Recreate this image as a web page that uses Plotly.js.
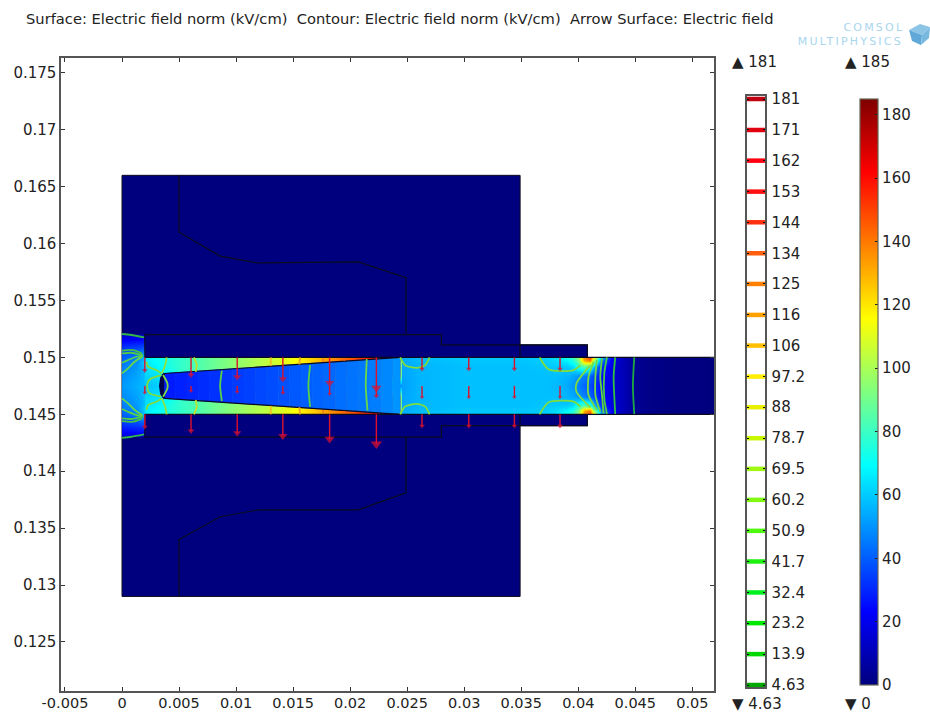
<!DOCTYPE html>
<html><head><meta charset="utf-8">
<script src="https://cdn.plot.ly/plotly-3.0.1.min.js"></script>
<style>html,body{margin:0;padding:0;background:#fff}#chart{width:930px;height:713px}</style>
</head><body><div id="chart"></div>
<script>
// ---------- axis ticks ----------
const xTickVals = [-0.005,0,0.005,0.01,0.015,0.02,0.025,0.03,0.035,0.04,0.045,0.05];
const xTickText = ['-0.005','0','0.005','0.01','0.015','0.02','0.025','0.03','0.035','0.04','0.045','0.05'];
const yTickVals = [0.125,0.13,0.135,0.14,0.145,0.15,0.155,0.16,0.165,0.17,0.175];
const yTickText = ['0.125','0.13','0.135','0.14','0.145','0.15','0.155','0.16','0.165','0.17','0.175'];
// ---------- contour legend ----------
const contourLevels = [4.63,13.9,23.2,32.4,41.7,50.9,60.2,69.5,78.7,88,97.2,106.5,115.7,125,134.2,143.5,152.7,162,171.2,180.5];
const contourLabels = ['4.63','13.9','23.2','32.4','41.7','50.9','60.2','69.5','78.7','88','97.2','106','116','125','134','144','153','162','171','181'];
const contourColors = ['#00a800','#00d800','#00e800','#00f020','#20f010','#50f810','#80f810','#a0f810','#c8f800','#e8f000','#ffee00','#ffc000','#ffa000','#ff8000','#ff6010','#ff3010','#ff1010','#ff0010','#e00010','#c00010'];
const surfaceTicks = [0,20,40,60,80,100,120,140,160,180];
// ---------- geometry (model units) ----------
const outerX = [0,0.0349,0.0349,0,0];
const outerY = [0.129,0.129,0.166,0.166,0.129];
const flangeX = [0.0349,0.0408,0.0408,0.0349,0.0349];
const flangeY = [0.144,0.144,0.1511,0.1511,0.144];
const tailX = [0.0408,0.052,0.052,0.0408,0.0408];
const tailY = [0.145,0.145,0.15,0.15,0.145];
const upperPartX = [0.005,0.005,0.0086,0.0119,0.0207,0.0249,0.0249];
const upperPartY = [0.166,0.161,0.1589,0.1583,0.1584,0.157,0.152];
const lowerPartX = [0.005,0.005,0.0086,0.0119,0.0207,0.0249,0.0249];
const lowerPartY = [0.129,0.134,0.136,0.1366,0.1366,0.1381,0.143];
const upperRimX = [0.002,0.002,0.028,0.028,0.0408,0.0408];
const upperRimY = [0.15,0.152,0.152,0.1511,0.1511,0.15];
const lowerRimX = [0.002,0.002,0.028,0.028,0.0408,0.0408];
const lowerRimY = [0.145,0.143,0.143,0.144,0.144,0.145];
const channelTopX = [0.002,0.052], channelTopY = [0.15,0.15];
const channelBotX = [0.002,0.052], channelBotY = [0.145,0.145];
const coreUpperX = [0.0037,0.0244], coreUpperY = [0.14859,0.15];
const coreLowerX = [0.0037,0.0244], coreLowerY = [0.14641,0.145];
const tipArcX = [0.0037,0.00345,0.00335,0.00345,0.0037];
const tipArcY = [0.14859,0.1482,0.1475,0.1468,0.14641];
// ---------- field tables (kV/cm) ----------
const leftX = [0.00001,0.00002,0.0002,0.0007,0.0013,0.00198,0.00199];
const leftY = [0.14301,0.14302,0.1435,0.144,0.1445,0.145,0.1455,0.146,0.147,0.1475,0.148,0.149,0.1495,0.15,0.1505,0.151,0.1515,0.15198,0.15199];
const lRow0 = [14,14,14,14,14,14,14];
const lRow1 = [24,24,24,24,25,26,26];
const lRow2 = [30,30,31,32,33,35,35];
const lRow3 = [36,36,37,38,40,48,48];
const lRow4 = [40,40,41,43,47,60,60];
const lRow5 = [44,44,45,47,50,62,62];
const lRow6 = [47,47,48,49,52,58,58];
const lRow7 = [50,50,50,52,54,58,58];
const lRow8 = [51,51,52,53,55,57,57];
const chX = [0.00201,0.00202,0.0022,0.003,0.0037,0.005,0.007,0.009,0.011,0.013,0.015,0.017,0.019,0.021,0.023,0.0243,
  0.0245,0.026,0.03,0.035,0.037,0.038,0.039,0.0395,0.04,0.0405,0.041,0.0413,0.0417,0.042,0.0425,0.043,0.044,0.045,0.046,0.048,0.052];
const chY = [0.14501,0.14502,0.1453,0.1458,0.1466,0.1475,0.1484,0.1492,0.1497,0.14998,0.14999];
const rowEdge = [66,66,67,70,73,78,85,92,99,105,114,126,140,153,165,172, 54,58,60,60,61,64,72,80,95,135,150,120,85,60,40,20,10,4,2,0.5,0];
const rowA    = [66,66,67,70,73,78,85,92,99,105,114,126,140,153,165,172, 54,57,59,59,60,63,68,75,90,130,140,105,70,45,32,18,10,4,2,0.5,0];
const rowB    = [64,64,65,68,72,78,85,92,99,105,114,126,140,153,165,172, 53,56,58,58,59,60,60,64,75,85,80,62,42,32,24,16,10,4,2,0.5,0];
const rowC    = [62,62,62,64,66,78,85,92,99,105,114,126,140,153,165,172, 53,56,58,58,58,58,56,54,50,47,42,37,30,25,20,15,10,4,2,0.5,0];
const rowMid  = [58,58,58,60,62,40,40,40,40,40,40,40,40,40,40,40,       52,56,58,58,58,57,54,50,46,42,37,33,28,24,19,15,10,4,2,0.5,0];
// tapered inner conductor gap, value per slice edge
const coreX = [0.0037,0.0047,0.0057,0.0067,0.0077,0.0087,0.0097,0.0107,0.0117,0.0127,0.0137,0.0147,0.0157,0.0167,0.0177,0.0187,0.0197,0.0207,0.0217,0.0227,0.0237,0.0244];
const coreV = [28,29,30,31,32,33,34,35,36,37,38,39,40,41,42,43,44,45,46,48,50];
// ---------- contour lines (model units) ----------
const fan1X=[0,0.00082,0.00193],         fan1Y=[0.15206,0.15197,0.15176];
const fan2X=[0,0.00097,0.00175],         fan2Y=[0.15059,0.15065,0.15035];
const fan3X=[0,0.00082,0.0014,0.00184],  fan3Y=[0.15035,0.15041,0.15029,0.15021];
const fan4X=[0,0.00053,0.00126,0.00184], fan4Y=[0.14953,0.14977,0.15006,0.15012];
const fan5X=[0,0.00053,0.00111,0.00175], fan5Y=[0.1486,0.14904,0.14962,0.15006];
const fan6X=[0.00214,0.00228,0.00301,0.00345], fan6Y=[0.14962,0.14919,0.14889,0.1486];
const wedge1X=[0.00392,0.00378,0.00349], wedge1Y=[0.15,0.14932,0.14859];
const wedge2X=[0.00631,0.00655,0.00646], wedge2Y=[0.15,0.14932,0.14873];
const wedge3X=[0.01304,0.01304],         wedge3Y=[0.15,0.14926];
const wedge4X=[0.01561,0.01555],         wedge4Y=[0.15,0.14938];
const wedge5X=[0.01764,0.01764],         wedge5Y=[0.14991,0.14962];
const wedge6X=[0.01948,0.01948],         wedge6Y=[0.1499,0.1497];
const patchAX=[0.02439,0.02482,0.02585,0.02658,0.02696], patchAY=[0.15,0.14932,0.14908,0.14932,0.15];
const patchBX=[0.03661,0.03742,0.03959,0.04018],         patchBY=[0.15,0.14894,0.14888,0.14932];
const loopX=[0.00345,0.00257,0.00228,0.00222,0.00243,0.00345], loopY=[0.14845,0.14816,0.14787,0.14728,0.14684,0.14655];
const arcX=[0.0036,0.00398,0.00398,0.0036],  arcY=[0.14845,0.14772,0.14728,0.14655];
const core1X=[0.00875,0.0086,0.00875],   core1Y=[0.14883,0.14751,0.14616];
const core2X=[0.01649,0.01634,0.01649],  core2Y=[0.14932,0.14751,0.14566];
const core3X=[0.02146,0.02137,0.02152],  core3Y=[0.14985,0.14751,0.14533];
const tail1X=[0.04105,0.03984,0.03984,0.04105], tail1Y=[0.14932,0.14771,0.14698,0.14561];
const tail2X=[0.04135,0.0409,0.0409,0.04163],   tail2Y=[0.14962,0.1483,0.14669,0.14537];
const tail3X=[0.04163,0.0415,0.0415,0.04193],   tail3Y=[0.14977,0.1483,0.14669,0.14522];
const tail4X=[0.04208,0.04193,0.04208,0.04222], tail4Y=[0.14991,0.1483,0.14669,0.14508];
const tail5X=[0.04251,0.04228,0.04228,0.04251], tail5Y=[0.15,0.14859,0.1464,0.14503];
const tail6X=[0.04324,0.0431,0.04316,0.04324],  tail6Y=[0.15,0.1483,0.14654,0.14503];
const tail7X=[0.04491,0.04479,0.04491],         tail7Y=[0.15,0.14751,0.14503];
// ---------- arrows ----------
const arrowX   = [0.002,0.00605,0.0101,0.0141,0.0182,0.0223,0.0263,0.0304,0.0344,0.0384];
const arrowTopEnd = [0.14885,0.14845,0.14828,0.1481,0.14775,0.14731,0.14898,0.14898,0.14898,0.14898];
const arrowMidEnd = [0.1469,0.14705,0.14696,0.14687,0.14678,0.1466,0.1465,0.1465,0.1465,0.1465];
const arrowBotEnd = [0.14388,0.14353,0.14336,0.14309,0.14283,0.14239,0.14397,0.14397,0.14397,0.14397];
const arrowTopY = 0.15, arrowMidY = 0.1475, arrowBotY = 0.145;
const topHead = [5,6,7,7,8,9,5,5,5,5];
const midHead = [4,4,4,4,4,5,4,4,4,4];
const botHead = [5,6,7,8,9,10,5,5,5,5];

// ---------- helpers ----------
const W = 930, H = 713;
const jet = [[0,[0,0,127]],[0.125,[0,0,255]],[0.375,[0,255,255]],[0.625,[255,255,0]],[0.875,[255,0,0]],[1,[127,0,0]]];
const css = c => 'rgb(' + c.map(Math.round).join(',') + ')';
const jetScale = jet.map(s => [s[0], css(s[1])]);
function jetColor(v){ const t=v/185; for(let i=1;i<jet.length;i++){ if(t<=jet[i][0]){ const a=jet[i-1],b=jet[i],f=(t-a[0])/(b[0]-a[0]); return css(a[1].map((c,k)=>c+(b[1][k]-c)*f)); } } return css(jet[5][1]); }
const pathOf = (xs,ys) => xs.map((x,i)=>(i?'L':'M')+x+','+ys[i]).join(' ')+' Z';
const mirror = ys => ys.map(y => +(0.295 - y).toFixed(5));
const lineTrace = (x,y,color,width) => ({type:'scatter',mode:'lines',x,y,line:{color,width:width||1.8,shape:'spline',smoothing:0.7},hoverinfo:'skip',showlegend:false,xaxis:'x',yaxis:'y'});
const edgeTrace = (x,y,color,width) => ({type:'scatter',mode:'lines',x,y,line:{color:color||'#0a0a20',width:width||1.2},hoverinfo:'skip',showlegend:false,xaxis:'x',yaxis:'y'});

const traces = [];
// field heatmaps
const leftZ = [lRow0,lRow0,lRow1,lRow2,lRow3,lRow4,lRow5,lRow6,lRow7,lRow8,lRow7,lRow6,lRow5,lRow4,lRow3,lRow2,lRow1,lRow0,lRow0];
traces.push({type:'heatmap',x:leftX,y:leftY,z:leftZ,coloraxis:'coloraxis',zsmooth:'best',hoverinfo:'skip',xaxis:'x',yaxis:'y'});
traces.push({type:'heatmap',x:chX,y:chY,z:[rowEdge,rowEdge,rowA,rowB,rowC,rowMid,rowC,rowB,rowA,rowEdge,rowEdge],coloraxis:'coloraxis',zsmooth:'best',hoverinfo:'skip',xaxis:'x',yaxis:'y'});
// tapered gap slices
const slope = (coreUpperY[1]-coreUpperY[0])/(coreUpperX[1]-coreUpperX[0]);
coreV.forEach((v,i)=>{
  const x0=coreX[i], x1=coreX[i+1];
  const t0=coreUpperY[0]+slope*(x0-coreUpperX[0]), t1=coreUpperY[0]+slope*(x1-coreUpperX[0]);
  const c=jetColor(v);
  traces.push({type:'scatter',mode:'lines',x:[x0,x1,x1,x0,x0],y:[t0,t1,0.295-t1,0.295-t0,t0],fill:'toself',fillcolor:c,line:{color:c,width:0.6},hoverinfo:'skip',showlegend:false,xaxis:'x',yaxis:'y'});
});
traces.push(Object.assign(edgeTrace(tipArcX,tipArcY,'#00004a',2.5),{fill:'toself',fillcolor:'#000050'}));
// outlines
[[upperPartX,upperPartY],[lowerPartX,lowerPartY],[upperRimX,upperRimY],[lowerRimX,lowerRimY],[channelTopX,channelTopY],[channelBotX,channelBotY],[coreUpperX,coreUpperY],[coreLowerX,coreLowerY]]
 .forEach(p=>traces.push(edgeTrace(p[0],p[1])));
// contours, each upper line with its mirror image
const g='#7fde3c';
[[fan1X,fan1Y,'#33b848'],[fan2X,fan2Y,'#44c048'],[fan3X,fan3Y,'#50c848'],[fan4X,fan4Y,'#5cd048'],[fan5X,fan5Y,'#68d848'],[fan6X,fan6Y,g],
 [wedge1X,wedge1Y,'#90e040'],[wedge2X,wedge2Y,'#c0e030'],[wedge3X,wedge3Y,'#f0c020'],[wedge4X,wedge4Y,'#f0a820'],[wedge5X,wedge5Y,'#f08020'],[wedge6X,wedge6Y,'#f06020'],
 [patchAX,patchAY,g],[patchBX,patchBY,g]].forEach(l=>{
   traces.push(lineTrace(l[0],l[1],l[2]));
   traces.push(lineTrace(l[0],mirror(l[1]),l[2]));
});
[[loopX,loopY,g],[arcX,arcY,g],[core1X,core1Y,'#58d048'],[core2X,core2Y,'#58d048'],[core3X,core3Y,'#68d848'],
 [tail1X,tail1Y,g],[tail2X,tail2Y,'#78dc40'],[tail3X,tail3Y,'#70d840'],[tail4X,tail4Y,'#60d440'],[tail5X,tail5Y,'#48cc40'],[tail6X,tail6Y,'#30c040'],[tail7X,tail7Y,'#1fa83f']]
 .forEach(l=>traces.push(lineTrace(l[0],l[1],l[2])));
// arrows
[[arrowTopY,arrowTopEnd,topHead],[arrowMidY,arrowMidEnd,midHead],[arrowBotY,arrowBotEnd,botHead]].forEach(r=>{
  const xs=[],ys=[];
  arrowX.forEach((x,i)=>{xs.push(x,x,null);ys.push(r[0],r[1][i],null);});
  traces.push({type:'scatter',mode:'lines',x:xs,y:ys,line:{color:'#e0102c',width:1.4},hoverinfo:'skip',showlegend:false,xaxis:'x',yaxis:'y'});
  traces.push({type:'scatter',mode:'markers',x:arrowX,y:r[1],marker:{symbol:'triangle-down',color:'#e0102c',size:r[2],line:{width:0}},hoverinfo:'skip',showlegend:false,xaxis:'x',yaxis:'y'});
});
// contour legend bands
contourLevels.forEach((v,i)=>{
  traces.push({type:'scatter',mode:'lines',x:[0,1],y:[v,v],line:{color:contourColors[i],width:4.5},hoverinfo:'skip',showlegend:false,xaxis:'x2',yaxis:'y2'});
});

const font = {family:'"DejaVu Sans", sans-serif', size:15, color:'#222'};
const xFont = {family:font.family, size:14.5, color:'#222'};
const axisBase = {showgrid:false,zeroline:false,showline:true,linecolor:'#555',linewidth:1.6,mirror:'ticks',ticks:'inside',ticklen:4,tickcolor:'#333',tickwidth:1,tickfont:font,tickmode:'array'};
const ann = (text,px,py,anchor,f) => ({text,x:px/W,y:1-py/H,xref:'paper',yref:'paper',xanchor:anchor||'left',yanchor:'middle',showarrow:false,font:f||font});
const logoFont = {family:'"DejaVu Sans", sans-serif', size:11, color:'#a8d6ee'};
const cube = (d,c) => ({type:'path',xref:'paper',yref:'paper',layer:'above',path:d.map((p,i)=>(i?'L':'M')+(p[0]/W)+','+(1-p[1]/H)).join(' ')+' Z',fillcolor:c,line:{width:0}});

const layout = {
  width:W,height:H,margin:{l:0,r:0,t:0,b:0},paper_bgcolor:'#fff',plot_bgcolor:'#fff',showlegend:false,font,
  title:{text:'Surface: Electric field norm (kV/cm)  Contour: Electric field norm (kV/cm)  Arrow Surface: Electric field',x:26/W,xanchor:'left',xref:'paper',y:1-19/H,yanchor:'middle',yref:'paper',font:{family:font.family,size:14.7,color:'#222'}},
  xaxis:Object.assign({},axisBase,{domain:[61/W,714/W],range:[-0.00535,0.0519],tickvals:xTickVals,ticktext:xTickText,anchor:'y',tickfont:xFont,ticklabelstandoff:-2}),
  yaxis:Object.assign({},axisBase,{domain:[1-691/H,1-58/H],range:[0.12069,0.17631],tickvals:yTickVals,ticktext:yTickText,anchor:'x'}),
  xaxis2:{domain:[747/W,765/W],range:[0,1],showgrid:false,zeroline:false,showticklabels:false,ticks:'',showline:true,linecolor:'#555',linewidth:1.6,mirror:true,anchor:'y2',fixedrange:true},
  yaxis2:{domain:[1-687/H,1-96/H],range:[4.03,181.4],showgrid:false,zeroline:false,side:'right',showline:true,linecolor:'#555',linewidth:1.6,mirror:'allticks',ticks:'inside',ticklen:2,tickcolor:'#111',tickwidth:1,tickfont:font,tickmode:'array',tickvals:contourLevels,ticktext:contourLabels,anchor:'x2',fixedrange:true,ticklabelstandoff:2},
  coloraxis:{cmin:0,cmax:185,colorscale:jetScale,colorbar:{x:860/W,xanchor:'left',y:1-685/H,yanchor:'bottom',yref:'paper',xref:'paper',len:586,lenmode:'pixels',thickness:18,thicknessmode:'pixels',xpad:0,ypad:0,outlinecolor:'#665',outlinewidth:1.2,borderwidth:0,tickmode:'array',tickvals:surfaceTicks,ticks:'inside',ticklen:3,tickcolor:'#222',tickfont:font,tickprefix:'\u00A0'}},
  shapes:[
    {type:'path',layer:'below',xref:'x',yref:'y',path:pathOf(outerX,outerY),fillcolor:jetColor(0),line:{color:'#0a0a20',width:1}},
    {type:'path',layer:'below',xref:'x',yref:'y',path:pathOf(flangeX,flangeY),fillcolor:jetColor(0),line:{color:'#0a0a20',width:1}},
    {type:'path',layer:'below',xref:'x',yref:'y',path:pathOf(tailX,tailY),fillcolor:jetColor(0),line:{width:0}},
    cube([[909,30],[920,24],[930,27],[922,35]],'#8cc4e6'),
    cube([[909,30],[922,35],[921,45],[912,41]],'#5fa8d8'),
    cube([[922,35],[930,27],[929,38],[921,45]],'#78b8de')
  ],
  annotations:[
    ann('▲ 181',730,62),
    ann('▲ 185',843,62),
    ann('▼ 4.63',730,704),
    ann('▼ 0',843,704),
    ann('COMSOL',900,27.5,'right',logoFont),
    ann('MULTIPHYSICS',892,41.5,'right',logoFont)
  ]
};
Plotly.newPlot('chart',traces,layout,{displayModeBar:false,staticPlot:true}).then(()=>{
  document.querySelectorAll('.annotation-text').forEach(t=>{
    if(t.textContent==='COMSOL') t.style.letterSpacing='2.2px';
    if(t.textContent==='MULTIPHYSICS') t.style.letterSpacing='2.2px';
  });
});
</script></body></html>
